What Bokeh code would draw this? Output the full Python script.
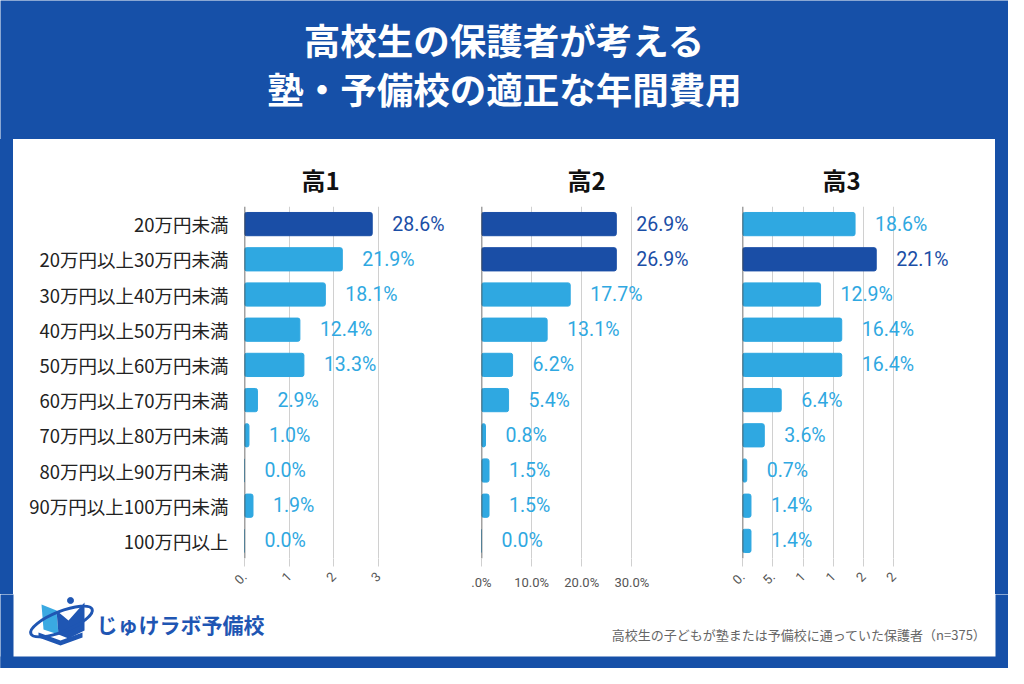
import math
from bokeh.plotting import figure
from bokeh.models import Range1d, FactorRange, FixedTicker, ColumnDataSource, Spacer, Span, Title
from bokeh.layouts import column, row
from bokeh.embed import file_html
from bokeh.resources import INLINE
from bokeh.core.properties import value

# ---------------- data ----------------
categories = ["20万円未満", "20万円以上30万円未満", "30万円以上40万円未満", "40万円以上50万円未満",
              "50万円以上60万円未満", "60万円以上70万円未満", "70万円以上80万円未満",
              "80万円以上90万円未満", "90万円以上100万円未満", "100万円以上"]
g1 = [28.6, 21.9, 18.1, 12.4, 13.3, 2.9, 1.0, 0.0, 1.9, 0.0]
g2 = [26.9, 26.9, 17.7, 13.1, 6.2, 5.4, 0.8, 1.5, 1.5, 0.0]
g3 = [18.6, 22.1, 12.9, 16.4, 16.4, 6.4, 3.6, 0.7, 1.4, 1.4]
panel_titles = ["高1", "高2", "高3"]
title_lines = ["高校生の保護者が考える", "塾・予備校の適正な年間費用"]
ticks1 = [0, 10, 20, 30]
tick_labels1 = ["0.", "1", "2", "3"]
ticks2 = [0, 10, 20, 30]
tick_labels2 = [".0%", "10.0%", "20.0%", "30.0%"]
ticks3 = [0, 5, 10, 15, 20, 25]
tick_labels3 = ["0.", "5.", "1", "1", "2", "2"]
footnote = "高校生の子どもが塾または予備校に通っていた保護者（n=375）"
logo_text = "じゅけラボ予備校"

# ---------------- style ----------------
BG = "#1650a8"
DARK = "#1a4ea6"
LIGHT = "#2fa8e1"
JP = "Noto Sans CJK JP"

W = 1008
SIDE = 13
HEADER_H = 139
TOP_B = 67
FRAME_H = 352
BOT_B = 36
PANEL_H = TOP_B + FRAME_H + BOT_B
FOOTER_H = 668 - HEADER_H - PANEL_H
FOOT_BLUE = 12


def make_panel(title, vals, x_end, ticks, tick_labels, frame_w, left, right,
               show_cats, orient, title_offset):
    mx = max(vals)
    colors = [DARK if v == mx else LIGHT for v in vals]
    src = ColumnDataSource(dict(cat=categories, val=vals, color=colors,
                                label=[f"{v:.1f}%" for v in vals]))
    p = figure(frame_width=frame_w, frame_height=FRAME_H,
               y_range=FactorRange(*reversed(categories)),
               x_range=Range1d(0, x_end),
               output_backend="svg", toolbar_location=None,
               min_border_left=left, min_border_right=right,
               min_border_top=TOP_B, min_border_bottom=BOT_B,
               background_fill_color="white", border_fill_color="white",
               outline_line_color=None)
    p.title = Title(text=title, align="left", text_font=JP, text_font_size="24px",
                    text_font_style="bold", text_color="#111111", standoff=19,
                    offset=title_offset)
    p.hbar(y="cat", left=0, right="val", height=0.66, fill_color="color",
           line_color="color", source=src, border_radius=2)
    p.text(x="val", y="cat", text="label", source=src, x_offset=20,
           text_align="left", text_baseline="middle", text_color="color",
           text_font=value("Roboto"), text_font_size="19.5px")
    p.add_layout(Span(location=0, dimension="height", line_color="#444444", line_width=1.5))

    p.xgrid.ticker = FixedTicker(ticks=ticks)
    p.xgrid.grid_line_color = "#d0d0d0"
    p.ygrid.visible = False
    xa = p.xaxis[0]
    xa.ticker = FixedTicker(ticks=ticks)
    xa.major_label_overrides = {t: lab for t, lab in zip(ticks, tick_labels)}
    xa.axis_line_color = None
    xa.major_tick_line_color = "#d0d0d0"
    xa.major_tick_in = 0
    xa.major_tick_out = 8
    xa.minor_tick_line_color = None
    xa.major_label_text_color = "#555555"
    xa.major_label_text_font = "Roboto"
    xa.major_label_text_font_size = "13px"
    xa.major_label_standoff = 8
    xa.major_label_orientation = orient

    ya = p.yaxis[0]
    if show_cats:
        ya.axis_line_color = None
        ya.major_tick_line_color = None
        ya.minor_tick_line_color = None
        ya.major_label_text_font = JP
        ya.major_label_text_font_size = "18.5px"
        ya.major_label_text_color = "#222222"
        ya.major_label_standoff = 10
    else:
        ya.visible = False
    return p


p1 = make_panel(panel_titles[0], g1, 45.9, ticks1, tick_labels1, 205, 231, 0, True, math.pi / 4, 57)
p2 = make_panel(panel_titles[1], g2, 43.1, ticks2, tick_labels2, 216, 32, 0, False, "horizontal", 86)
p3 = make_panel(panel_titles[2], g3, 35.2, ticks3, tick_labels3, 213, 45, 40, False, math.pi / 4, 80)

# ---------------- header ----------------
h = figure(width=W, height=HEADER_H, x_range=Range1d(0, W), y_range=Range1d(HEADER_H, 0),
           output_backend="svg", toolbar_location=None, min_border=0,
           background_fill_color=BG, border_fill_color=BG, outline_line_color=None)
h.axis.visible = False
h.grid.visible = False
h.text(x=[W / 2, W / 2], y=[39, 88], text=title_lines, text_align="center",
       text_baseline="middle", text_color="white", text_font=value(JP),
       text_font_size="36.5px", text_font_style="bold")

# ---------------- footer ----------------
f = figure(width=W, height=FOOTER_H, x_range=Range1d(0, W), y_range=Range1d(FOOTER_H, 0),
           output_backend="svg", toolbar_location=None, min_border=0,
           background_fill_color="white", border_fill_color="white", outline_line_color=None)
f.axis.visible = False
f.grid.visible = False
# blue frame around the white card (sides + bottom)
f.quad(left=[-5, W - SIDE, -5], right=[SIDE, W + 5, W + 5],
       top=[-5, -5, FOOTER_H - FOOT_BLUE], bottom=[FOOTER_H + 5, FOOTER_H + 5, FOOTER_H + 5],
       fill_color=BG, line_color=None)
# logo icon
f.patch(x=[41, 56, 58, 43], y=[10, 16, 40, 35], fill_color="#3aa9e2", line_color=None)
f.patch(x=[56, 68, 84, 84, 68, 58], y=[16, 26, 8, 36, 44, 40], fill_color="#1f56b3", line_color=None)
f.patch(x=[38, 60, 82, 82, 60, 38], y=[38, 46, 38, 43, 51, 43], fill_color="#1f56b3", line_color=None)
f.ellipse(x=[61], y=[27], width=[66], height=[20], angle=[0.38], fill_color=None,
          line_color="#1f56b3", line_width=3)
f.scatter(x=[70], y=[6], size=6, color="#1f56b3")
f.text(x=[96], y=[29], text=[logo_text], text_align="left", text_baseline="middle",
       text_color="#1f56b3", text_font=value(JP), text_font_size="21px",
       text_font_style="bold")
f.text(x=[986], y=[40], text=[footnote], text_align="right", text_baseline="middle",
       text_color="#666666", text_font=value(JP), text_font_size="13px")

sp_l = Spacer(width=SIDE, height=PANEL_H, styles={"background-color": BG})
sp_r = Spacer(width=SIDE, height=PANEL_H, styles={"background-color": BG})
mid = row(sp_l, p1, p2, p3, sp_r, styles={"background-color": "white"})
layout = column(h, mid, f, styles={"background-color": "white"})

open("out.html", "w").write(file_html(layout, INLINE))
